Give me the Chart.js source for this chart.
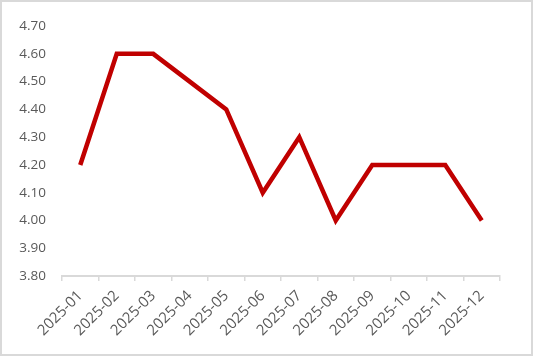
<!DOCTYPE html>
<html>
<head>
<meta charset="utf-8">
<script src="https://cdn.jsdelivr.net/npm/chart.js@4/dist/chart.umd.min.js"></script>
<style>
  html, body { margin: 0; padding: 0; background: #fff; }
  #wrap { width: 533px; height: 356px; box-sizing: border-box; border: 2px solid #d9d9d9; }
</style>
</head>
<body>
<div id="wrap"><canvas id="chart" width="529" height="352"></canvas></div>
<script>
// 月份与数值
const months = ['2025-01', '2025-02', '2025-03', '2025-04', '2025-05', '2025-06',
                '2025-07', '2025-08', '2025-09', '2025-10', '2025-11', '2025-12'];
const values = [4.20, 4.60, 4.60, 4.50, 4.40, 4.10, 4.30, 4.00, 4.20, 4.20, 4.20, 4.00];
const yMin = 3.80;
const yMax = 4.70;
const yStep = 0.10;

const ctx = document.getElementById('chart').getContext('2d');
new Chart(ctx, {
    type: 'line',
    data: {
        labels: months,
        datasets: [{
            data: values,
            borderColor: '#c00000',
            borderWidth: 4.5,
            pointRadius: 0,
            tension: 0,
            fill: false
        }]
    },
    options: {
        responsive: false,
        animation: false,
        layout: { padding: { top: 18, right: 31, left: 0, bottom: 0 } },
        plugins: { legend: { display: false }, tooltip: { enabled: false } },
        scales: {
            x: {
                offset: true,
                grid: { display: true, offset: true, drawOnChartArea: false, color: '#d9d9d9', tickLength: 5, lineWidth: 1.5 },
                border: { display: true, color: '#d9d9d9', width: 2 },
                ticks: {
                    color: '#595959',
                    font: { family: 'Open Sans', size: 15 },
                    minRotation: 45,
                    maxRotation: 45,
                    autoSkip: false,
                    padding: 6
                },
                afterFit: function(scale) { scale.height = 78; }
            },
            y: {
                min: yMin,
                max: yMax,
                grid: { display: false, drawTicks: false },
                border: { display: false },
                ticks: {
                    stepSize: yStep,
                    color: '#595959',
                    font: { family: 'Open Sans', size: 13.5 },
                    padding: 16,
                    callback: function(v) { return Number(v).toFixed(2); }
                },
                afterFit: function(scale) { scale.width = 60; }
            }
        }
    }
});
</script>
</body>
</html>
